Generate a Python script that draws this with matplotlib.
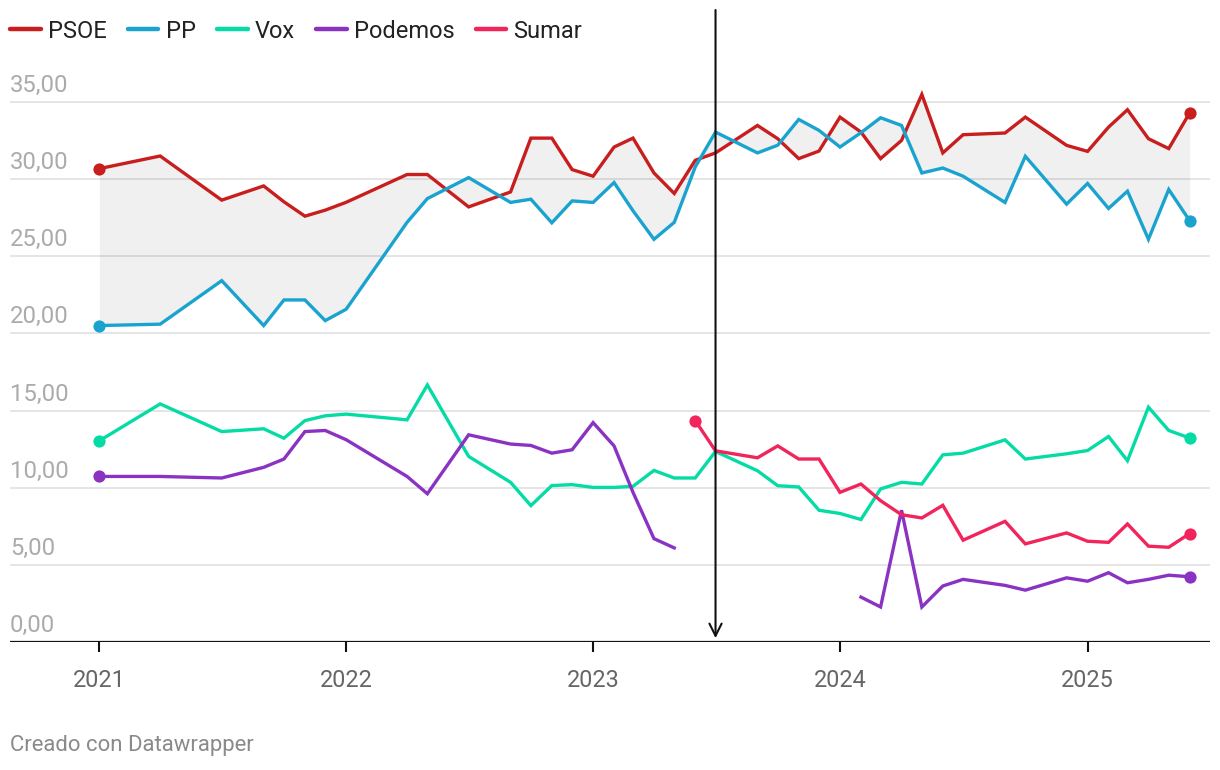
import matplotlib
matplotlib.use("Agg")
import matplotlib.pyplot as plt
import matplotlib.dates as mdates
import matplotlib.transforms as mtransforms
from matplotlib.lines import Line2D
import numpy as np
import pandas as pd

plt.rcParams['font.family'] = ['Roboto', 'DejaVu Sans']

# ---------------- data ----------------
months = ["2021-01", "2021-04", "2021-07", "2021-09", "2021-10", "2021-11", "2021-12",
          "2022-01", "2022-04", "2022-05", "2022-07", "2022-09", "2022-10", "2022-11", "2022-12",
          "2023-01", "2023-02", "2023-03", "2023-04", "2023-05", "2023-06", "2023-07",
          "2023-09", "2023-10", "2023-11", "2023-12",
          "2024-01", "2024-02", "2024-03", "2024-04", "2024-05", "2024-06", "2024-07",
          "2024-09", "2024-10", "2024-12",
          "2025-01", "2025-02", "2025-03", "2025-04", "2025-05", "2025-06"]

psoe = [30.68, 31.5, 28.64, 29.56, 28.53, 27.6, 27.99,
        28.5, 30.3, 30.3, 28.2, 29.17, 32.66, 32.66, 30.62,
        30.19, 32.08, 32.66, 30.4, 29.07, 31.22, 31.7,
        33.48, 32.62, 31.33, 31.82,
        34.02, 33.05, 31.33, 32.51, 35.49, 31.7, 32.88,
        32.99, 34.02, 32.19,
        31.8, 33.37, 34.5, 32.62, 31.98, 34.3]

pp = [20.51, 20.6, 23.42, 20.51, 22.17, 22.17, 20.83,
      21.57, 27.2, 28.74, 30.1, 28.49, 28.7, 27.17, 28.59,
      28.49, 29.78, 27.95, 26.1, 27.2, 30.79, 33.05,
      31.7, 32.2, 33.87, 33.16,
      32.08, 33.01, 33.98, 33.48, 30.4, 30.72, 30.19,
      28.49, 31.48, 28.38,
      29.72, 28.1, 29.22, 26.1, 29.33, 27.3]

vox = [13.04, 15.43, 13.64, 13.82, 13.21, 14.35, 14.66,
       14.77, 14.4, 16.66, 12.03, 10.35, 8.84, 10.14, 10.2,
       10.02, 10.02, 10.09, 11.12, 10.63, 10.63, 12.35,
       11.1, 10.13, 10.05, 8.54,
       8.33, 7.94, 9.92, 10.35, 10.24, 12.13, 12.24,
       13.1, 11.86, 12.2,
       12.41, 13.32, 11.75, 15.22, 13.71, 13.22]

nan = np.nan
podemos = [10.73, 10.73, 10.63, 11.32, 11.86, 13.64, 13.71,
           13.11, 10.73, 9.61, 13.43, 12.83, 12.74, 12.24, 12.46,
           14.22, 12.71, 9.7, 6.7, 6.1, nan, nan,
           nan, nan, nan, nan,
           nan, 2.91, 2.27, 8.54, 2.27, 3.63, 4.06,
           3.67, 3.36, 4.16,
           3.94, 4.49, 3.84, 4.06, 4.33, 4.23]

sumar = [nan, nan, nan, nan, nan, nan, nan,
         nan, nan, nan, nan, nan, nan, nan, nan,
         nan, nan, nan, nan, nan, 14.35, 12.39,
         11.94, 12.71, 11.86, 11.86,
         9.7, 10.24, 9.16, 8.25, 8.04, 8.86, 6.6,
         7.82, 6.36, 7.07,
         6.53, 6.46, 7.65, 6.21, 6.14, 7.03]

series_names = ["PSOE", "PP", "Vox", "Podemos", "Sumar"]
series_colors = ["#c81e1e", "#1ba3d0", "#05dca5", "#8a33c2", "#f2245c"]

year_ticks = ["2021", "2022", "2023", "2024", "2025"]
y_ticks = [0, 5, 10, 15, 20, 25, 30, 35]
event_date = "2023-07-01"
credit = "Creado con Datawrapper"

# ---------------- figure ----------------
W, H = 1220, 770
fig = plt.figure(figsize=(W / 100, H / 100), dpi=100)
ax_left, ax_right, ax_top, ax_bottom = 10, 1210, 10, 642
ax = fig.add_axes([ax_left / W, (H - ax_bottom) / H,
                   (ax_right - ax_left) / W, (ax_bottom - ax_top) / H])

dates = pd.to_datetime(months)
px_per_unit = 540 / 35.0
ax.set_ylim(0, (ax_bottom - ax_top) / px_per_unit)
ax.set_xlim(pd.Timestamp("2020-08-22"), pd.Timestamp("2025-07-01"))

for s in ax.spines.values():
    s.set_visible(False)

# gridlines
for v in y_ticks[1:]:
    ax.axhline(v, color="#e3e3e3", lw=1.3, zorder=0)
ax.axhline(0, color="#111111", lw=1.6, zorder=6)

# y labels above gridlines
tr = mtransforms.blended_transform_factory(ax.transAxes, ax.transData)
tr_off = mtransforms.offset_copy(tr, fig=fig, x=0, y=10, units="dots")
for v in y_ticks:
    ax.text(0, v, f"{v:.2f}".replace(".", ","), transform=tr_off, ha="left",
            va="baseline", color="#ababab", fontsize=17.2)

# x ticks
ax.set_xticks(pd.to_datetime(year_ticks))
ax.set_xticklabels(year_ticks)
ax.set_yticks([])
ax.tick_params(axis="x", length=7, width=1.5, color="#111111", pad=12.5,
               labelsize=16.8, labelcolor="#666666", direction="out")

# shaded gap PSOE vs PP
ax.fill_between(dates, psoe, pp, color="#000000", alpha=0.06, lw=0, zorder=1)

all_series = [psoe, pp, vox, podemos, sumar]
for vals, name, col in zip(all_series, series_names, series_colors):
    arr = np.array(vals, dtype=float)
    ax.plot(dates, arr, color=col, lw=2.4, zorder=3, solid_joinstyle="miter")
    valid = np.where(~np.isnan(arr))[0]
    i0, i1 = valid[0], valid[-1]
    ax.plot([dates[i0], dates[i1]], [arr[i0], arr[i1]], "o", ms=8.8,
            color=col, zorder=4, mec="none")

# event line with arrow
ev = pd.Timestamp(event_date)
ax.annotate("", xy=(ev, 0.25), xytext=(ev, ax.get_ylim()[1]),
            arrowprops=dict(arrowstyle="->", color="#111111", lw=1.5,
                            mutation_scale=22, shrinkA=0, shrinkB=0),
            zorder=5, annotation_clip=False)

# legend
handles = [Line2D([0], [0], color=c, lw=3.2, solid_capstyle="round") for c in series_colors]
fig.legend(handles, series_names, loc="center left",
           bbox_to_anchor=(10 / W, 1 - 31 / H), ncol=5, frameon=False,
           fontsize=17.0, handlelength=1.3, handletextpad=0.3,
           columnspacing=0.9, borderpad=0, borderaxespad=0,
           labelcolor="#222222")

fig.text(10 / W, 1 - 746 / H, credit, ha="left", va="center",
         fontsize=15.9, color="#8a8a8a")

fig.savefig("out.png", dpi=100, facecolor="white")
